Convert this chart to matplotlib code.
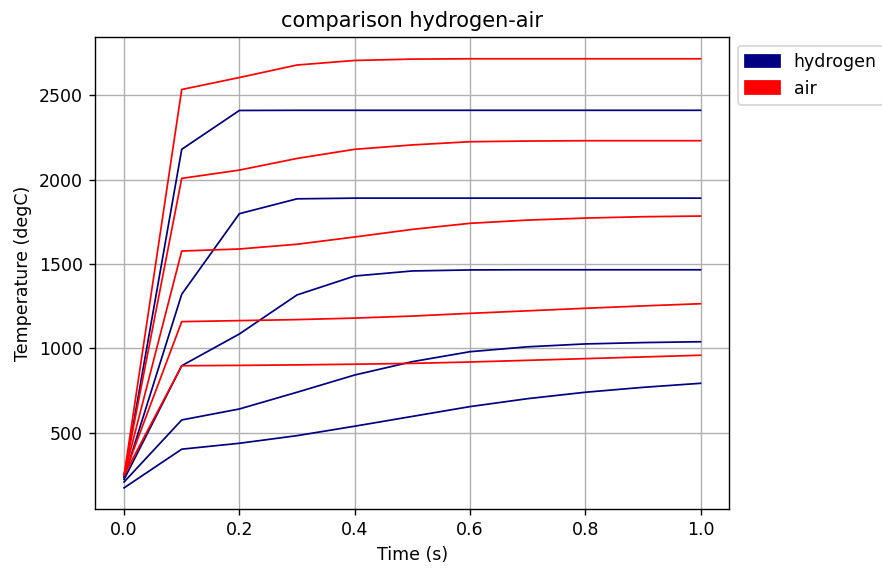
import matplotlib
matplotlib.use("Agg")
import matplotlib.pyplot as plt
import matplotlib.patches as mpatches

# time steps (s)
time = [0.0, 0.1, 0.2, 0.3, 0.4, 0.5, 0.6, 0.7, 0.8, 0.9, 1.0]

# hydrogen temperature curves (degC)
hydrogen = [
    [240, 2179, 2409, 2410, 2410, 2410, 2410, 2410, 2410, 2410, 2410],
    [235, 1321, 1798, 1886, 1890, 1890, 1890, 1890, 1890, 1890, 1890],
    [225, 898, 1086, 1317, 1429, 1459, 1465, 1466, 1466, 1466, 1466],
    [210, 577, 642, 741, 843, 922, 981, 1010, 1027, 1035, 1040],
    [175, 404, 439, 484, 540, 598, 656, 703, 741, 770, 794],
]

# air temperature curves (degC)
air = [
    [250, 2533, 2604, 2678, 2705, 2713, 2715, 2715, 2715, 2715, 2715],
    [250, 2007, 2056, 2125, 2179, 2205, 2224, 2228, 2230, 2230, 2230],
    [250, 1577, 1589, 1617, 1660, 1705, 1741, 1760, 1772, 1780, 1784],
    [250, 1159, 1165, 1171, 1180, 1192, 1208, 1223, 1238, 1252, 1265],
    [250, 898, 900, 903, 907, 912, 920, 930, 940, 950, 960],
]

fig = plt.figure(figsize=(7.056, 4.544), dpi=125)
ax = fig.add_axes([0.108, 0.1033, 0.8269 - 0.108, 0.9343 - 0.1033])

for h in hydrogen:
    ax.plot(time, h, color="navy", linewidth=1)
for a in air:
    ax.plot(time, a, color="red", linewidth=1)

ax.set_title("comparison hydrogen-air")
ax.set_xlabel("Time (s)")
ax.set_ylabel("Temperature (degC)")
ax.grid(True)

handles = [mpatches.Patch(color="navy", label="hydrogen"),
           mpatches.Patch(color="red", label="air")]
ax.legend(handles=handles, bbox_to_anchor=(1, 1), loc="upper left")

fig.savefig("out.png", dpi=125)
